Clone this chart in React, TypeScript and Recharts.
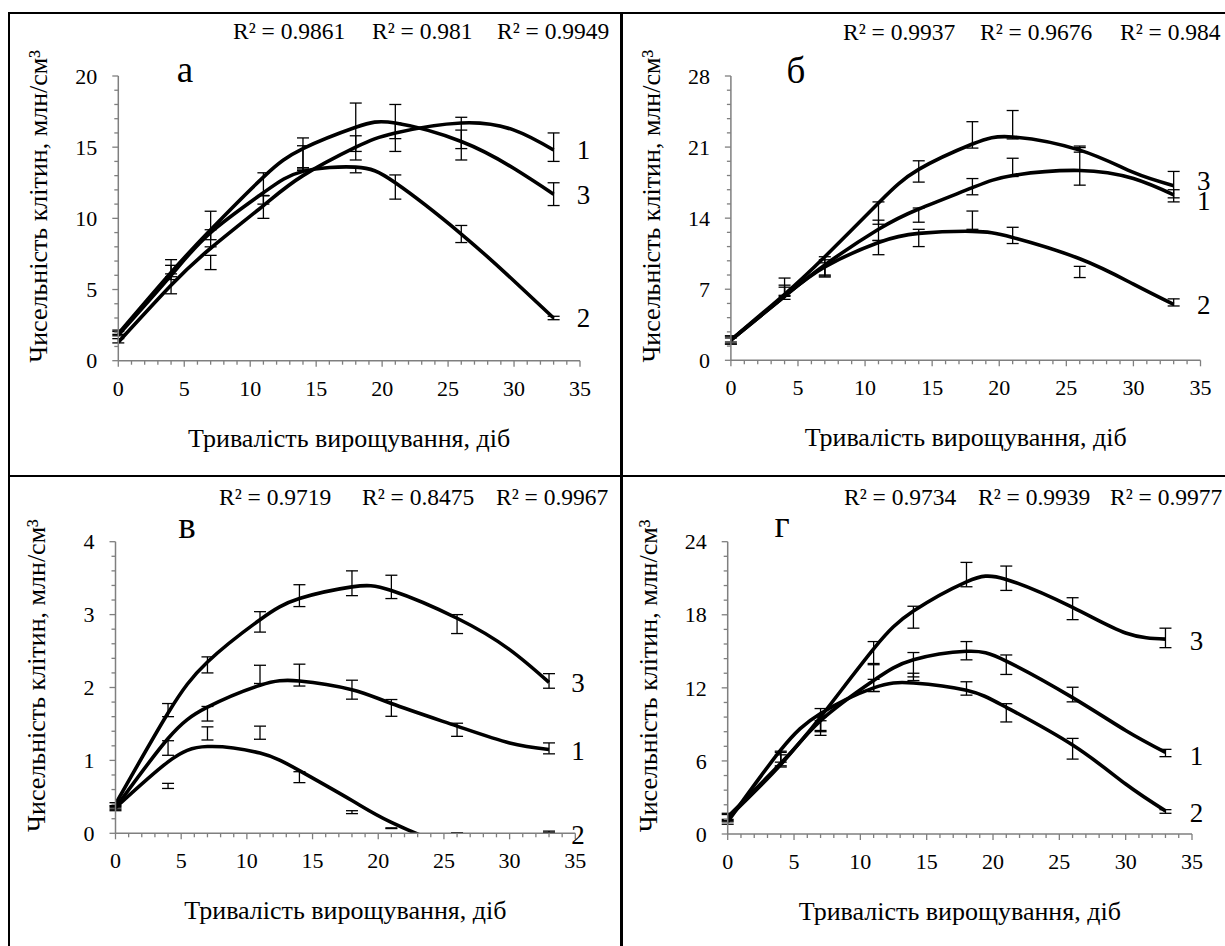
import React from 'react';
import { ComposedChart, Line, Scatter, ErrorBar, XAxis, YAxis, Customized } from 'recharts';

const FONT = '"Liberation Serif", "Times New Roman", serif';
const PAGE_W = 1225;
const PAGE_H = 946;
const AXIS = '#7f7f7f';

// ---------------- data ----------------
const days = [0, 4, 7, 11, 14, 18, 21, 26, 33];
const trendDays = [0, 4, 7, 11, 14, 18, 21, 26, 30, 33];
const xMajorTicks = [0, 5, 10, 15, 20, 25, 30, 35];
const seriesNames = ['1', '2', '3'];
const panelLetters = ['а', 'б', 'в', 'г'];
const xTitle = 'Тривалість вирощування, діб';
const yTitle = 'Чисельність клітин, млн/см³';

// panel а
const aYTicks = [0, 5, 10, 15, 20];
const aMean1 = [1.4, 5.3, 6.9, 10.8, 14.25, 14.95, 15.7, 16.0, 15.0];
const aErr1 = [0.15, 0.6, 0.5, 0.8, 0.85, 0.85, 1.0, 1.1, 1.0];
const aMean2 = [1.9, 6.2, 8.6, 11.3, 13.45, 13.4, 12.2, 8.9, 3.0];
const aErr2 = [0.15, 0.5, 0.6, 0.3, 0.1, 0.2, 0.85, 0.6, 0.12];
const aMean3 = [2.0, 6.6, 9.5, 12.4, 14.6, 16.4, 16.8, 15.15, 11.7];
const aErr3 = [0.15, 0.5, 1.0, 0.8, 1.05, 1.7, 1.2, 1.05, 0.8];
const aTrend1 = [1.3, 5.3, 7.9, 10.9, 13.0, 15.0, 16.0, 16.7, 16.2, 14.8];
const aTrend2 = [1.8, 6.0, 9.0, 11.8, 13.3, 13.6, 12.5, 8.9, 5.6, 3.0];
const aTrend3 = [1.9, 6.2, 9.2, 12.9, 14.9, 16.4, 16.7, 15.4, 13.5, 11.7];
const aR2 = ['R² = 0.9861', 'R² = 0.981', 'R² = 0.9949'];

// panel б
const bYTicks = [0, 7, 14, 21, 28];
const bMean1 = [2.0, 7.2, 9.1, 12.8, 14.3, 17.1, 19.0, 19.1, 16.2];
const bErr1 = [0.4, 0.9, 0.8, 1.0, 0.7, 0.8, 0.9, 1.85, 0.6];
const bMean2 = [1.9, 6.6, 8.9, 11.1, 12.05, 13.8, 12.3, 8.7, 5.7];
const bErr2 = [0.3, 0.6, 0.7, 0.7, 0.85, 0.9, 0.8, 0.55, 0.35];
const bMean3 = [2.1, 6.9, 9.3, 14.5, 18.6, 22.2, 23.2, 20.8, 17.3];
const bErr3 = [0.3, 0.5, 0.9, 1.1, 1.05, 1.3, 1.4, 0.3, 1.3];
const bTrend1 = [2.0, 6.3, 9.4, 12.9, 14.9, 17.0, 18.2, 18.7, 17.9, 16.3];
const bTrend2 = [2.0, 6.3, 9.2, 11.6, 12.5, 12.7, 12.1, 10.0, 7.5, 5.5];
const bTrend3 = [2.0, 6.5, 10.2, 15.5, 18.8, 21.3, 22.0, 20.7, 18.5, 17.2];
const bR2 = ['R² = 0.9937', 'R² = 0.9676', 'R² = 0.984'];

// panel в
const cYTicks = [0, 1, 2, 3, 4];
const cMean1 = [0.35, 1.17, 1.64, 2.18, 2.17, 1.97, 1.72, 1.42, 1.165];
const cErr1 = [0.02, 0.1, 0.1, 0.125, 0.15, 0.13, 0.115, 0.09, 0.075];
const cMean2 = [0.33, 0.65, 1.37, 1.38, 0.77, 0.29, 0.07, 0.005, 0.02];
const cErr2 = [0.02, 0.035, 0.09, 0.09, 0.075, 0.02, 0.005, 0.004, 0.01];
const cMean3 = [0.4, 1.69, 2.31, 2.9, 3.26, 3.43, 3.38, 2.87, 2.09];
const cErr3 = [0.02, 0.09, 0.11, 0.14, 0.15, 0.17, 0.16, 0.13, 0.1];
const cTrend1 = [0.35, 1.3, 1.73, 2.03, 2.09, 1.97, 1.78, 1.47, 1.24, 1.15];
const cTrend2 = [0.35, 0.98, 1.19, 1.1, 0.86, 0.45, 0.15, -0.2, -0.25, 0.0];
const cTrend3 = [0.4, 1.65, 2.35, 2.93, 3.22, 3.38, 3.33, 2.95, 2.52, 2.07];
const cR2 = ['R² = 0.9719', 'R² = 0.8475', 'R² = 0.9967'];

// panel г
const dYTicks = [0, 6, 12, 18, 24];
const dMean1 = [1.3, 6.2, 9.0, 12.8, 13.9, 15.05, 13.9, 11.45, 6.65];
const dErr1 = [0.3, 0.6, 0.6, 1.1, 1.0, 0.75, 0.8, 0.6, 0.3];
const dMean2 = [1.0, 6.3, 9.4, 12.2, 12.9, 11.95, 9.95, 7.0, 1.85];
const dErr2 = [0.2, 0.4, 0.9, 0.5, 0.3, 0.55, 0.75, 0.85, 0.15];
const dMean3 = [1.4, 6.0, 8.7, 14.9, 17.8, 21.3, 21.0, 18.5, 16.1];
const dErr3 = [0.3, 0.5, 0.6, 0.9, 0.9, 1.0, 1.0, 0.9, 0.8];
const dTrend1 = [1.3, 5.7, 9.3, 12.6, 14.3, 15.0, 14.2, 11.2, 8.5, 6.7];
const dTrend2 = [1.0, 6.9, 9.9, 12.0, 12.4, 11.8, 10.4, 7.3, 4.1, 1.9];
const dTrend3 = [1.4, 5.8, 9.6, 15.2, 18.3, 20.7, 20.9, 18.6, 16.5, 16.0];
const dR2 = ['R² = 0.9734', 'R² = 0.9939', 'R² = 0.9977'];

// ---------------- helpers ----------------
const makePoints = (mean: number[], err: number[]) => days.map((d, i) => ({ x: d, y: mean[i], err: err[i] }));
const makeTrend = (vals: number[]) => trendDays.map((d, i) => ({ x: d, y: vals[i] }));

// axis ticks: majors plus 4 minor ticks between each pair
const withMinor = (maj: number[]) => {
  const out: number[] = [];
  for (let i = 0; i < maj.length - 1; i++) {
    for (let k = 0; k < 5; k++) out.push(maj[i] + ((maj[i + 1] - maj[i]) * k) / 5);
  }
  out.push(maj[maj.length - 1]);
  return out;
};

const isMajor = (v: number, maj: number[]) => maj.some((m) => Math.abs(m - v) < 1e-6);
const TXT = { fontFamily: FONT } as React.CSSProperties;

const makeXTick = (B: number) => (p: any) => {
  const x = p.payload && p.payload.coordinate != null ? p.payload.coordinate : p.x;
  const v = p.payload.value;
  const major = isMajor(v, xMajorTicks);
  return (
    <g key={`xt-${v}`}>
      <line x1={x} x2={x} y1={B} y2={B + (major ? 6 : 4)} stroke={AXIS} strokeWidth={1.3} />
      {major && (
        <text x={x} y={B + 35} textAnchor="middle" fontSize={22} style={TXT} fill="#000">
          {v}
        </text>
      )}
    </g>
  );
};

const makeYTick = (L: number, maj: number[]) => (p: any) => {
  const y = p.payload && p.payload.coordinate != null ? p.payload.coordinate : p.y;
  const v = p.payload.value;
  const major = isMajor(v, maj);
  return (
    <g key={`yt-${v}`}>
      <line x1={L - (major ? 6 : 4)} x2={L} y1={y} y2={y} stroke={AXIS} strokeWidth={1.3} />
      {major && (
        <text x={L - 21} y={y} dy="0.35em" textAnchor="end" fontSize={22} style={TXT} fill="#000">
          {Math.round(v)}
        </text>
      )}
    </g>
  );
};

const makeEndLabel = (name: string, dx: number, dy: number) => (props: any) => {
  const { x, y, index } = props;
  if (index !== trendDays.length - 1) return <g key={`lb-${index}`} />;
  return (
    <text key={`lb-${index}`} x={x + dx} y={y + dy} dy="0.35em" textAnchor="middle" fontSize={27} style={TXT} fill="#000">
      {name}
    </text>
  );
};

type PanelCfg = {
  letter: string;
  yMajor: number[];
  r2: string[];
  means: number[][];
  errs: number[][];
  trends: number[][];
  L: number; R: number; T: number; B: number;
  r2X: number[]; r2Y: number;
  letterX: number; letterY: number;
  labelDx: number; labelDy: number[];
};

const panels: PanelCfg[] = [
  {
    letter: panelLetters[0], yMajor: aYTicks, r2: aR2,
    means: [aMean1, aMean2, aMean3], errs: [aErr1, aErr2, aErr3], trends: [aTrend1, aTrend2, aTrend3],
    L: 118.3, R: 580, T: 76, B: 360.7,
    r2X: [233, 372, 497], r2Y: 38.5, letterX: 185, letterY: 82,
    labelDx: 30, labelDy: [0, 0, 0],
  },
  {
    letter: panelLetters[1], yMajor: bYTicks, r2: bR2,
    means: [bMean1, bMean2, bMean3], errs: [bErr1, bErr2, bErr3], trends: [bTrend1, bTrend2, bTrend3],
    L: 730.9, R: 1200.5, T: 76, B: 360.3,
    r2X: [843, 980, 1120], r2Y: 40, letterX: 796, letterY: 83,
    labelDx: 30, labelDy: [6, 0, -5],
  },
  {
    letter: panelLetters[2], yMajor: cYTicks, r2: cR2,
    means: [cMean1, cMean2, cMean3], errs: [cErr1, cErr2, cErr3], trends: [cTrend1, cTrend2, cTrend3],
    L: 115.5, R: 575.3, T: 541.7, B: 833.3,
    r2X: [219, 362, 496], r2Y: 505, letterX: 187, letterY: 538,
    labelDx: 29, labelDy: [1, 1, 0],
  },
  {
    letter: panelLetters[3], yMajor: dYTicks, r2: dR2,
    means: [dMean1, dMean2, dMean3], errs: [dErr1, dErr2, dErr3], trends: [dTrend1, dTrend2, dTrend3],
    L: 727.7, R: 1192, T: 541.7, B: 834,
    r2X: [844, 978, 1110], r2Y: 505, letterX: 782, letterY: 537,
    labelDx: 31, labelDy: [3, 2, 1],
  },
];

function Panel({ p }: { p: PanelCfg }) {
  const yAxisW = 60;
  const xAxisH = 60;
  const margin = { top: p.T, right: PAGE_W - p.R, bottom: PAGE_H - p.B - xAxisH, left: p.L - yAxisW };
  const yMax = p.yMajor[p.yMajor.length - 1];
  const yAll = withMinor(p.yMajor);
  const xAll = withMinor(xMajorTicks);
  const cx = (p.L + p.R) / 2;
  const cy = (p.T + p.B) / 2 - 12;
  const tx = p.L - 71;
  const Overlay = () => (
    <g fill="#000" style={TXT}>
      {p.r2.map((t, i) => (
        <text key={i} x={p.r2X[i]} y={p.r2Y} fontSize={23.5} style={TXT}>
          {t}
        </text>
      ))}
      <text x={p.letterX} y={p.letterY} fontSize={37} textAnchor="middle" style={TXT}>
        {p.letter}
      </text>
      <text x={cx} y={p.B + 86} fontSize={26} textAnchor="middle" style={TXT}>
        {xTitle}
      </text>
      <text x={tx} y={cy} transform={`rotate(-90 ${tx} ${cy})`} fontSize={26} textAnchor="middle" style={TXT}>
        {yTitle}
      </text>
    </g>
  );
  return (
    <div style={{ position: 'absolute', left: 0, top: 0 }}>
      <ComposedChart width={PAGE_W} height={PAGE_H} margin={margin} style={TXT}>
        <XAxis
          type="number" dataKey="x" domain={[0, 35]} ticks={xAll} interval={0} allowDataOverflow
          height={xAxisH} axisLine={{ stroke: AXIS, strokeWidth: 1.5 }} tickLine={false} tick={makeXTick(p.B)}
        />
        <YAxis
          type="number" domain={[0, yMax]} ticks={yAll} interval={0} allowDataOverflow
          width={yAxisW} axisLine={{ stroke: AXIS, strokeWidth: 1.5 }} tickLine={false} tick={makeYTick(p.L, p.yMajor)}
        />
        {p.trends.map((t, i) => (
          <Line
            key={`l${i}`} data={makeTrend(t)} dataKey="y" type="natural" stroke="#000" strokeWidth={3.6}
            dot={false} activeDot={false} isAnimationActive={false}
            label={makeEndLabel(seriesNames[i], p.labelDx, p.labelDy[i])}
          />
        ))}
        {p.means.map((m, i) => (
          <Scatter key={`s${i}`} data={makePoints(m, p.errs[i])} dataKey="y" shape={() => <g />} isAnimationActive={false}>
            <ErrorBar dataKey="err" direction="y" width={6} stroke="#000" strokeWidth={1.3} />
          </Scatter>
        ))}
        <Customized component={Overlay} />
      </ComposedChart>
    </div>
  );
}

export default function App() {
  return (
    <div style={{ position: 'absolute', left: 0, top: 0, width: PAGE_W, height: PAGE_H, background: '#fff', overflow: 'hidden', fontFamily: FONT }}>
      {panels.map((p, i) => (
        <Panel key={i} p={p} />
      ))}
      <div style={{ position: 'absolute', left: 8.3, top: 11.7, width: PAGE_W, height: 2, background: '#000' }} />
      <div style={{ position: 'absolute', left: 8.3, top: 11.7, width: 2, height: PAGE_H, background: '#000' }} />
      <div style={{ position: 'absolute', left: 620, top: 11.7, width: 2.8, height: PAGE_H, background: '#000' }} />
      <div style={{ position: 'absolute', left: 8.3, top: 474.5, width: PAGE_W, height: 2.8, background: '#000' }} />
    </div>
  );
}
